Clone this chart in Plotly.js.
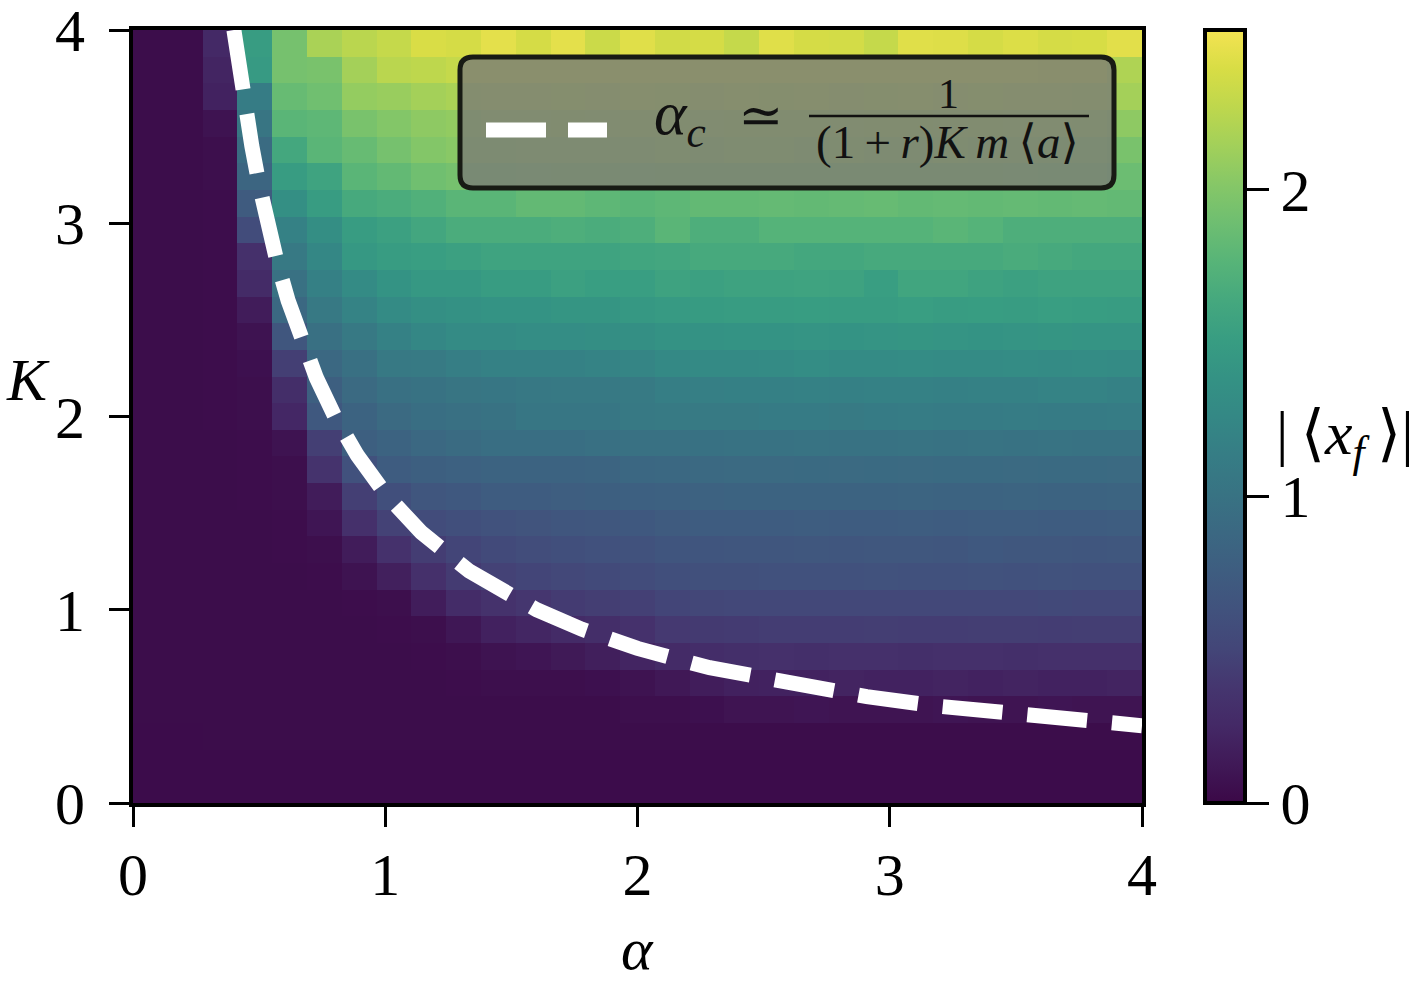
<!DOCTYPE html>
<html><head><meta charset="utf-8">
<script src="https://cdn.plot.ly/plotly-3.0.1.min.js"></script>
<style>html,body{margin:0;padding:0;background:#fff}</style>
</head><body><div id="chart" style="width:1422px;height:984px"></div>
<script>
// grid: 29 x 29 cells on [0,4] x [0,4]
const nCells = 29;
const alphaEdges = Array.from({length: nCells + 1}, (_, i) => 4 * i / nCells);
const kEdges = Array.from({length: nCells + 1}, (_, i) => 4 * i / nCells);

// |<x_f>| values, rows from K≈0 (bottom) to K≈4 (top), columns alpha 0 -> 4
const z = [
[0.03,0.03,0.03,0.03,0.03,0.03,0.03,0.03,0.03,0.03,0.03,0.03,0.03,0.03,0.03,0.03,0.03,0.03,0.03,0.03,0.03,0.03,0.03,0.03,0.03,0.03,0.03,0.03,0.03],
[0.03,0.03,0.03,0.03,0.03,0.03,0.03,0.03,0.03,0.03,0.03,0.03,0.03,0.03,0.03,0.03,0.03,0.03,0.03,0.03,0.03,0.03,0.03,0.03,0.03,0.03,0.03,0.03,0.03],
[0.03,0.03,0.035,0.035,0.035,0.035,0.035,0.035,0.035,0.035,0.035,0.035,0.035,0.035,0.035,0.035,0.035,0.035,0.035,0.035,0.035,0.035,0.035,0.035,0.035,0.035,0.035,0.035,0.035],
[0.035,0.035,0.035,0.035,0.035,0.035,0.035,0.035,0.035,0.035,0.035,0.035,0.035,0.035,0.05,0.05,0.06,0.09,0.09,0.10,0.09,0.09,0.09,0.10,0.09,0.09,0.10,0.09,0.09],
[0.035,0.035,0.035,0.035,0.035,0.035,0.035,0.035,0.035,0.04,0.05,0.05,0.05,0.06,0.08,0.12,0.16,0.19,0.20,0.20,0.21,0.20,0.20,0.21,0.20,0.21,0.20,0.20,0.21],
[0.035,0.035,0.035,0.035,0.035,0.035,0.035,0.035,0.04,0.05,0.08,0.10,0.13,0.17,0.22,0.27,0.29,0.31,0.32,0.31,0.32,0.32,0.31,0.32,0.32,0.31,0.32,0.32,0.32],
[0.035,0.035,0.035,0.035,0.035,0.035,0.035,0.04,0.05,0.11,0.19,0.23,0.27,0.30,0.33,0.40,0.41,0.42,0.43,0.43,0.43,0.44,0.43,0.43,0.44,0.44,0.43,0.44,0.44],
[0.035,0.035,0.035,0.035,0.035,0.035,0.04,0.05,0.16,0.28,0.34,0.38,0.42,0.44,0.46,0.50,0.51,0.52,0.52,0.53,0.52,0.53,0.53,0.52,0.53,0.53,0.54,0.53,0.53],
[0.035,0.035,0.035,0.035,0.035,0.04,0.08,0.18,0.32,0.42,0.47,0.50,0.52,0.55,0.57,0.60,0.61,0.61,0.62,0.62,0.62,0.63,0.62,0.62,0.63,0.62,0.63,0.62,0.62],
[0.035,0.035,0.035,0.035,0.04,0.05,0.15,0.33,0.43,0.50,0.55,0.58,0.60,0.62,0.63,0.66,0.67,0.68,0.68,0.69,0.68,0.69,0.69,0.68,0.70,0.69,0.69,0.68,0.69],
[0.035,0.035,0.035,0.035,0.04,0.10,0.32,0.47,0.57,0.60,0.63,0.65,0.68,0.69,0.70,0.73,0.74,0.75,0.75,0.76,0.75,0.75,0.76,0.75,0.76,0.76,0.75,0.75,0.76],
[0.035,0.035,0.035,0.04,0.05,0.15,0.45,0.60,0.68,0.70,0.75,0.75,0.77,0.78,0.79,0.80,0.81,0.82,0.82,0.83,0.82,0.83,0.84,0.83,0.83,0.84,0.83,0.83,0.84],
[0.035,0.035,0.035,0.04,0.05,0.35,0.62,0.75,0.78,0.80,0.83,0.83,0.83,0.84,0.87,0.88,0.89,0.90,0.90,0.91,0.90,0.91,0.90,0.91,0.91,0.90,0.91,0.91,0.90],
[0.035,0.035,0.035,0.04,0.08,0.45,0.78,0.83,0.88,0.92,0.95,0.95,0.95,0.97,0.98,0.98,0.99,1.00,1.00,1.01,1.00,1.00,1.01,1.00,1.01,1.00,1.01,1.00,1.00],
[0.035,0.035,0.04,0.05,0.24,0.70,0.83,0.90,0.95,0.97,1.00,1.05,1.05,1.05,1.08,1.09,1.10,1.10,1.11,1.11,1.10,1.11,1.12,1.11,1.11,1.12,1.11,1.11,1.12],
[0.035,0.035,0.04,0.05,0.30,0.78,0.90,0.97,1.00,1.03,1.05,1.07,1.08,1.08,1.10,1.15,1.16,1.17,1.17,1.18,1.17,1.18,1.18,1.17,1.18,1.18,1.20,1.20,1.18],
[0.035,0.035,0.04,0.06,0.45,0.88,0.97,1.08,1.10,1.15,1.18,1.18,1.18,1.20,1.22,1.27,1.28,1.29,1.30,1.32,1.30,1.30,1.31,1.30,1.30,1.31,1.30,1.31,1.30],
[0.035,0.035,0.04,0.08,0.68,0.97,1.08,1.18,1.25,1.30,1.30,1.32,1.32,1.33,1.35,1.38,1.39,1.40,1.40,1.41,1.40,1.41,1.42,1.41,1.40,1.41,1.42,1.41,1.41],
[0.035,0.035,0.04,0.15,0.88,1.08,1.20,1.30,1.35,1.37,1.40,1.40,1.42,1.42,1.45,1.48,1.49,1.50,1.50,1.51,1.50,1.50,1.52,1.50,1.51,1.50,1.52,1.51,1.50],
[0.035,0.035,0.04,0.27,0.98,1.17,1.30,1.40,1.45,1.46,1.50,1.50,1.55,1.52,1.52,1.57,1.55,1.57,1.57,1.58,1.57,1.52,1.60,1.60,1.57,1.55,1.57,1.57,1.57],
[0.035,0.035,0.04,0.32,1.08,1.25,1.45,1.50,1.52,1.55,1.58,1.58,1.58,1.58,1.60,1.62,1.65,1.65,1.65,1.63,1.63,1.65,1.65,1.65,1.65,1.67,1.65,1.63,1.63],
[0.035,0.035,0.04,0.57,1.18,1.33,1.50,1.55,1.62,1.68,1.68,1.68,1.70,1.68,1.70,1.78,1.70,1.70,1.75,1.75,1.75,1.75,1.75,1.78,1.75,1.70,1.70,1.70,1.70],
[0.035,0.035,0.04,0.73,1.35,1.50,1.65,1.68,1.72,1.78,1.78,1.83,1.83,1.80,1.78,1.80,1.83,1.83,1.84,1.83,1.84,1.85,1.83,1.84,1.83,1.84,1.83,1.84,1.83],
[0.035,0.035,0.05,0.85,1.50,1.58,1.78,1.83,1.90,1.93,1.93,1.94,1.95,1.95,1.94,1.95,1.96,1.95,1.95,1.96,1.95,1.95,1.96,1.95,1.95,1.94,1.93,1.92,1.88],
[0.035,0.035,0.05,0.92,1.63,1.78,1.85,1.93,2.00,2.03,2.03,2.04,2.05,2.05,2.05,2.06,2.05,2.06,2.06,2.05,2.06,2.05,2.05,2.06,2.05,2.04,2.02,2.00,1.95],
[0.035,0.035,0.08,1.03,1.78,1.80,1.95,2.00,2.05,2.07,2.10,2.10,2.11,2.10,2.12,2.11,2.10,2.12,2.11,2.12,2.10,2.11,2.12,2.10,2.11,2.10,2.10,2.08,2.05],
[0.035,0.035,0.20,1.12,1.85,1.90,2.08,2.10,2.15,2.18,2.20,2.20,2.21,2.20,2.22,2.21,2.20,2.22,2.21,2.22,2.20,2.21,2.22,2.20,2.21,2.20,2.20,2.18,2.15],
[0.035,0.035,0.22,1.48,1.93,1.95,2.15,2.25,2.27,2.30,2.30,2.31,2.30,2.32,2.31,2.30,2.32,2.31,2.30,2.31,2.32,2.30,2.31,2.30,2.31,2.30,2.29,2.28,2.20],
[0.035,0.035,0.25,1.50,1.93,2.18,2.25,2.30,2.40,2.38,2.45,2.38,2.45,2.33,2.43,2.36,2.38,2.30,2.43,2.38,2.37,2.30,2.43,2.42,2.38,2.41,2.38,2.39,2.44]
];

// dashed critical line (alpha_c vs K)
const curveK     = [4.0, 3.8, 3.6, 3.4, 3.2, 3.0, 2.8, 2.6, 2.4, 2.2, 2.0, 1.8, 1.6, 1.4, 1.2, 1.0, 0.9, 0.8, 0.7, 0.6, 0.55, 0.5, 0.45, 0.4];
const curveAlpha = [0.400,0.421,0.444,0.471,0.500,0.533,0.571,0.615,0.667,0.727,0.800,0.889,1.000,1.143,1.333,1.600,1.778,2.000,2.286,2.667,2.909,3.200,3.556,4.000];

const axisTicks = [0, 1, 2, 3, 4];
const cbTicks = [0, 1, 2];
const zMin = 0, zMax = 2.52;

// viridis anchor colours, softened slightly toward grey as in the reference
const viridisHex = ['#440154','#471365','#482475','#46337e','#414487','#3b528b','#355f8d','#2f6c8e','#2a788e','#25848e','#21918c','#1e9c89','#22a884','#2fb47c','#44bf70','#5ec962','#7ad151','#9bd93c','#bddf26','#dde318','#fde725'];
const soften = 0.25;
const colorscale = viridisHex.map((h, i) => {
  const r = parseInt(h.slice(1, 3), 16), g = parseInt(h.slice(3, 5), 16), b = parseInt(h.slice(5, 7), 16);
  const lum = 0.3 * r + 0.59 * g + 0.11 * b;
  const f = c => Math.round(c + soften * (lum - c));
  return [i / (viridisHex.length - 1), 'rgb(' + f(r) + ',' + f(g) + ',' + f(b) + ')'];
});

// pixel -> paper helpers for decorations
const L = 133, T = 30, W = 1009, H = 773;
const px = v => (v - L) / W;
const py = v => (T + H - v) / H;

const serif = 'Liberation Serif, DejaVu Serif, serif';
const black = '#000';
const ts = '\u2009';

const heat = {
  type: 'heatmap', x: alphaEdges, y: kEdges, z: z,
  colorscale: colorscale, zmin: zMin, zmax: zMax,
  hoverinfo: 'skip',
  colorbar: {
    x: px(1205), xanchor: 'left', xpad: 0, ypad: 0,
    y: 0.5, yanchor: 'middle', len: 1, lenmode: 'fraction',
    thickness: 40, thicknessmode: 'pixels',
    outlinewidth: 4, outlinecolor: black,
    tickmode: 'array', tickvals: cbTicks, ticktext: cbTicks.map(String),
    ticks: 'outside', ticklen: 22, tickwidth: 3, tickcolor: black,
    ticklabeloverflow: 'allow',
    tickfont: {family: serif, size: 60, color: black}
  }
};

const line = {
  type: 'scatter', mode: 'lines', x: curveAlpha, y: curveK,
  name: 'alpha_c', showlegend: false, hoverinfo: 'skip',
  line: {color: '#ffffff', width: 15, dash: '60px,25px'}
};

// legend box (rounded)
const bx0 = 460, bx1 = 1114, by0 = 57, by1 = 188, r = 13;
const P = (x, y) => px(x).toFixed(5) + ',' + py(y).toFixed(5);
const boxPath = 'M ' + P(bx0 + r, by0) + ' L ' + P(bx1 - r, by0) + ' Q ' + P(bx1, by0) + ' ' + P(bx1, by0 + r) +
  ' L ' + P(bx1, by1 - r) + ' Q ' + P(bx1, by1) + ' ' + P(bx1 - r, by1) +
  ' L ' + P(bx0 + r, by1) + ' Q ' + P(bx0, by1) + ' ' + P(bx0, by1 - r) +
  ' L ' + P(bx0, by0 + r) + ' Q ' + P(bx0, by0) + ' ' + P(bx0 + r, by0) + ' Z';

const shapes = [
  {type: 'path', xref: 'paper', yref: 'paper', path: boxPath, layer: 'above',
   fillcolor: 'rgba(122,124,118,0.8)', line: {color: 'rgb(24,27,20)', width: 5}},
  {type: 'line', xref: 'paper', yref: 'paper', x0: px(486), x1: px(607), y0: py(130), y1: py(130), layer: 'above',
   line: {color: '#ffffff', width: 15, dash: '60px,22px'}},
  {type: 'line', xref: 'paper', yref: 'paper', x0: px(809), x1: px(1089), y0: py(116), y1: py(116), layer: 'above',
   line: {color: '#111', width: 2.5}}
];

const ann = (x, y, text, size, extra) => Object.assign({
  xref: 'paper', yref: 'paper', x: px(x), y: py(y), text: text, showarrow: false,
  xanchor: 'center', yanchor: 'middle', font: {family: serif, size: size, color: black}
}, extra || {});

const annotations = [
  ann(28, 380, '<i>K</i>', 60),
  ann(637, 949, '<i>α</i>', 60),
  ann(1345, 438, '|' + ts + '⟨<i>x</i><sub><i>f</i></sub>' + ts + '⟩|', 62),
  ann(652, 118, '<i>α</i><sub><i>c</i></sub>', 60, {xanchor: 'left', font: {family: serif, size: 62, color: '#111'}}),
  ann(760, 115, '≃', 56, {font: {family: 'DejaVu Serif, serif', size: 54, color: '#111'}}),
  ann(948, 94, '1', 42, {font: {family: serif, size: 42, color: '#111'}}),
  ann(947, 142, '(1' + ts + '+' + ts + '<i>r</i>)<i>K</i>' + ts + '<i>m</i>' + ts + '⟨<i>a</i>⟩', 46, {font: {family: serif, size: 47, color: '#111'}})
];

const axisCommon = {
  range: [0, 4], tickmode: 'array', tickvals: axisTicks, ticktext: axisTicks.map(String),
  ticks: 'outside', ticklen: 20, tickwidth: 3, tickcolor: black,
  showline: true, linewidth: 4, linecolor: black, mirror: true,
  showgrid: false, zeroline: false, ticklabeloverflow: 'allow',
  tickfont: {family: serif, size: 60, color: black}
};

const layout = {
  width: 1422, height: 984,
  margin: {l: L, r: 1422 - L - W, t: T, b: 984 - T - H, pad: 0},
  paper_bgcolor: '#fff', plot_bgcolor: '#fff',
  xaxis: Object.assign({}, axisCommon, {ticklabelstandoff: -4}),
  yaxis: Object.assign({}, axisCommon, {ticklabelstandoff: 12}),
  shapes: shapes, annotations: annotations, showlegend: false
};

Plotly.newPlot('chart', [heat, line], layout, {displayModeBar: false, staticPlot: true});
</script>
</body></html>
